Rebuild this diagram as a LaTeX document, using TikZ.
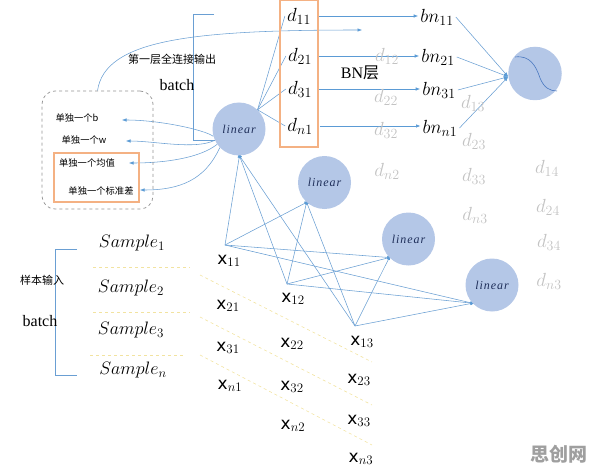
\RequirePackage{fix-cm}
\documentclass[tikz,border=0pt]{standalone}
\usepackage{fontspec}
\setmainfont{Liberation Serif}
\newfontfamily\cjk{Noto Sans CJK SC}
\newfontfamily\xf{DejaVu Sans}
\newfontfamily\linf[LetterSpace=8]{Liberation Serif}
\DeclareMathSizes{19}{19}{14}{10}
\DeclareMathSizes{18}{18}{13}{10}
\DeclareMathSizes{17}{17}{13}{10}
\usetikzlibrary{arrows.meta,backgrounds}
\definecolor{cfill}{HTML}{B4C7E7}
\definecolor{lblue}{HTML}{6A9FD3}
\definecolor{ablue}{HTML}{5B9BD5}
\definecolor{orng}{HTML}{F4B183}
\definecolor{gtxt}{HTML}{C3C3C3}
\definecolor{ydash}{HTML}{F2E3A0}
\definecolor{navy}{HTML}{1F2F5A}
\definecolor{wave}{HTML}{4A78C0}
\begin{document}
\begin{tikzpicture}[x=1pt,y=-1pt,
  lin/.style={circle,fill=cfill,minimum size=53pt,inner sep=0pt,text=navy,
    font={\linf\itshape\fontsize{12}{14}\selectfont}},
  dl/.style={inner sep=2pt,font={\fontsize{19}{19}\selectfont}},
  gl/.style={dl,text=gtxt},
  xl/.style={inner sep=1pt,font={\xf\fontsize{17}{17}\selectfont}},
  sl/.style={inner sep=1pt,font={\fontsize{18}{18}\selectfont}},
  cj/.style={inner sep=1pt,font={\cjk\fontsize{9.3}{10}\selectfont}},
  obox/.style={draw=orng,line width=2.2pt,inner sep=0pt},
  cl/.style={draw=lblue,line width=0.55pt},
  tip/.style={-{Latex[length=4.5pt,width=3.5pt,color=ablue]}},
  ydl/.style={draw=ydash,dashed,line width=0.6pt}
]
\useasboundingbox (0,0) rectangle (596,473);

% circles
\node[lin] (L1) at (239,129) {linear};
\node[lin] (L2) at (324.5,182.5) {linear};
\node[lin] (L3) at (408.5,239) {linear};
\node[lin] (L4) at (492,285) {linear};
\node[circle,fill=cfill,minimum size=53.5pt,inner sep=0pt] (act) at (535,73.5) {};
\draw[wave,line width=0.6pt] (515,57) .. controls (530,55) and (536,66) .. (540,78) .. controls (544,88) and (550,91) .. (557,91);

% d box
\node[obox,minimum width=38pt,minimum height=147pt] (dbox) at (299,73.5) {};
\node[dl] (d11) at (299,16) {$d_{11}$};
\node[dl] (d21) at (300,56) {$d_{21}$};
\node[dl] (d31) at (300,89) {$d_{31}$};
\node[dl] (dn1) at (300,126) {$d_{n1}$};

% bn
\node[dl] (bn11) at (437,17) {$bn_{11}$};
\node[dl] (bn21) at (438,57) {$bn_{21}$};
\node[dl] (bn31) at (439,90) {$bn_{31}$};
\node[dl] (bnn1) at (440,128) {$bn_{n1}$};

% grey d
\node[gl] (d12) at (387,56) {$d_{12}$};
\node[gl] (d22) at (386,97) {$d_{22}$};
\node[gl] (d32) at (386,130) {$d_{32}$};
\node[gl] (dn2) at (387,171) {$d_{n2}$};
\node[gl] (d13) at (473,103) {$d_{13}$};
\node[gl] (d23) at (474,141) {$d_{23}$};
\node[gl] (d33) at (474,176) {$d_{33}$};
\node[gl] (dn3a) at (475,215) {$d_{n3}$};
\node[gl] (d14) at (547,168) {$d_{14}$};
\node[gl] (d24) at (548,207) {$d_{24}$};
\node[gl] (d34) at (549,242) {$d_{34}$};
\node[gl] (dn3b) at (549,281) {$d_{n3}$};

\node[inner sep=1pt,font={\fontsize{16}{16}\selectfont}] (bnl) at (360,73) {BN{\cjk 层}};
\node[inner sep=1pt,font={\cjk\fontsize{11}{12}\selectfont}] (fc) at (172,59) {第一层全连接输出};
\node[inner sep=1pt,font={\fontsize{16}{16}\selectfont}] (batch1) at (177,85) {batch};

% dashed box
\node[draw=gray!85,dashed,line width=0.7pt,rounded corners=13pt,minimum width=111pt,minimum height=118pt,inner sep=0pt] (dash) at (97.5,150) {};
\node[obox,line width=2pt,minimum width=85pt,minimum height=49pt] (ibox) at (96.5,177.5) {};
\node[cj] (lb) at (77,118) {单独一个b};
\node[cj] (lw) at (84,140) {单独一个w};
\node[cj] (lm) at (87,163) {单独一个均值};
\node[cj] (ls) at (101,191) {单独一个标准差};
\coordinate (tb) at (122,120);
\coordinate (tw) at (126,141);
\coordinate (tm) at (129,163);
\coordinate (ts) at (140,190);

% samples
\node[sl] (s1) at (132,243) {$Sample_1$};
\node[sl] (s2) at (131,288) {$Sample_2$};
\node[sl] (s3) at (131,330) {$Sample_3$};
\node[sl] (sn) at (133,370) {$Sample_n$};
\node[inner sep=1pt,font={\cjk\fontsize{11}{12}\selectfont}] (sin) at (42,280) {样本输入};
\node[inner sep=1pt,font={\fontsize{16}{16}\selectfont}] (batch2) at (40,321) {batch};

% x labels
\node[xl] (x11) at (229,261) {x$_{11}$};
\node[xl] (x21) at (228,306) {x$_{21}$};
\node[xl] (x31) at (228,348) {x$_{31}$};
\node[xl] (xn1) at (230,386) {x$_{n1}$};
\node[xl] (x12) at (293,299) {x$_{12}$};
\node[xl] (x22) at (292,344) {x$_{22}$};
\node[xl] (x32) at (292,387) {x$_{32}$};
\node[xl] (xn2) at (293,426) {x$_{n2}$};
\node[xl] (x13) at (362,342) {x$_{13}$};
\node[xl] (x23) at (359,380) {x$_{23}$};
\node[xl] (x33) at (359,421) {x$_{33}$};
\node[xl] (xn3) at (361,459) {x$_{n3}$};
\coordinate (p11) at (225,245);
\coordinate (p12) at (287,284);
\coordinate (p13) at (355,326);
\coordinate (cA) at (362,30);

\node[inner sep=0pt,text=gray!75,font={\cjk\bfseries\fontsize{19}{19}\selectfont}] (wm) at (559,454) {思创网};

\begin{scope}[on background layer]
% yellow dashed separators
\draw[ydl] (93,267) -- (190,267);
\draw[ydl] (93,312) -- (190,312);
\draw[ydl] (90,355) -- (185,355);
\draw[ydl] (200,275) -- (372,362);
\draw[ydl] (200,317) -- (372,405);
\draw[ydl] (200,355) -- (372,445);
% x to linear
\foreach \p in {p11,p12,p13}{
  \foreach \t/\a in {L1/271,L2/228,L3/224,L4/223}{
    \draw[cl,tip,shorten >=-2.5pt] (\p) -- (\t.\a);
  }
}
% linear1 to d
\foreach \d in {d11,d21,d31,dn1}{
  \draw[cl] (L1.46) -- (\d.west);
}
% d to bn
\foreach \d/\b in {d11/bn11,d21/bn21,d31/bn31,dn1/bnn1}{
  \draw[draw=ablue,line width=0.7pt,tip,shorten <=5pt] (\d.east) -- (\d.east -| \b.west);
}
% bn to act
\foreach \b in {bn11,bn21,bn31,bnn1}{
  \draw[cl,tip] (\b.east) -- (act.187);
}
% linear1 to parameters
\draw[cl,tip] (L1.196) .. controls (205,130) and (160,120) .. (tb);
\draw[cl,tip] (L1.205) .. controls (195,150) and (155,141) .. (tw);
\draw[cl,tip] (L1.215) .. controls (200,158) and (165,163) .. (tm);
\draw[cl,tip] (L1.224) .. controls (205,180) and (180,190) .. (ts);
% output curve
\draw[cl,tip] (dash.north) .. controls (105,40) and (190,30) .. (cA);
% brackets
\draw[cl] (214,14) -- (193,14) -- (193,140) -- (215,140);
\draw[cl] (77,249) -- (55,249) -- (55,375) -- (77,375);
\end{scope}
\end{tikzpicture}
\end{document}
